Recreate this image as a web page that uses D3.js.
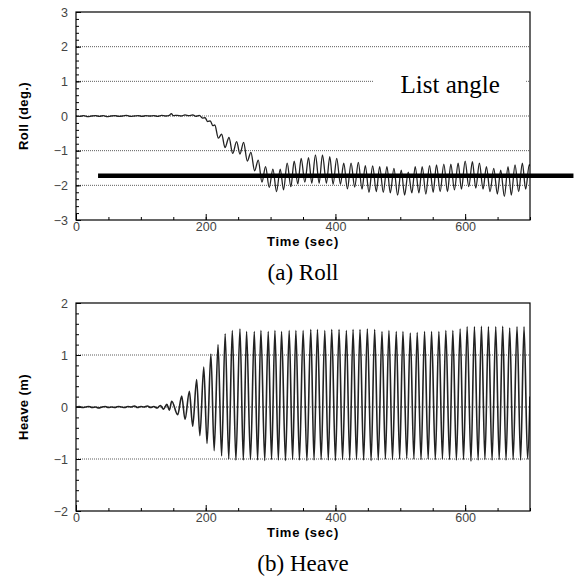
<!DOCTYPE html>
<html>
<head>
<meta charset="utf-8">
<script src="https://cdn.jsdelivr.net/npm/d3@7"></script>
<style>
  body { margin: 0; background: #fff; }
  .tick text { font-family: "Liberation Sans", Arial, sans-serif; font-size: 12.5px; fill: #444; }
  .tick line { stroke: #000; }
</style>
</head>
<body>
<svg id="chart"></svg>
<script>
const width = 574;
const height = 577;

// roll (deg.), [time (sec), value]
const rollData = [
  [0,0.00],[6,-0.01],[12,0.01],[18,-0.02],[24,0.00],[30,0.01],[36,-0.01],[42,0.01],[48,-0.02],[54,0.00],
  [60,0.01],[66,-0.01],[72,0.00],[78,0.02],[84,-0.01],[90,0.00],[96,0.01],[102,-0.01],[108,0.01],[114,0.00],
  [120,0.01],[126,-0.01],[132,0.02],[138,0.00],[144,0.02],[147,0.07],[150,0.01],[156,0.02],[162,0.00],[168,0.03],
  [174,0.01],[180,0.03],[185,-0.01],[190,0.02],[195,-0.06],[199,-0.05],[203,-0.16],[207,-0.14],[211,-0.28],[214,-0.26],
  [219.5,-0.64],[224.6,-0.52],[229.7,-0.91],[235.9,-0.62],[241.5,-1.08],[247.7,-0.74],[252.8,-1.10],[258.4,-0.76],
  [264.1,-1.30],[269.7,-1.05],[275.4,-1.58],[281,-1.27],[286.7,-1.91],[292.3,-1.46],[297.9,-2.06],[303.6,-1.53],
  [309.2,-2.18],[314.9,-1.53],[320,-2.13],[325.6,-1.36],[331.3,-2.04],[336.4,-1.30],[342,-1.96],[347.2,-1.22],
  [352.8,-1.91],[358.5,-1.20],[363.6,-1.94],[369.2,-1.12],[374.9,-1.94],[380,-1.12],[386.1,-1.94],[391.3,-1.17],
  [396.4,-1.97],[402,-1.22],[407.7,-1.97],[412.8,-1.36],[418.5,-2.10],[424.1,-1.36],[429.7,-2.05],[435.3,-1.34],
  [441,-2.11],[446.1,-1.43],[451.7,-2.20],[457.4,-1.44],[463,-2.18],[468.2,-1.46],[473.8,-2.20],[479.4,-1.46],
  [484.6,-2.22],[490.2,-1.51],[495.8,-2.28],[501.5,-1.56],[506.6,-2.28],[512.3,-1.62],[517.9,-2.22],[523,-1.46],
  [528.7,-2.22],[533.8,-1.46],[539.4,-2.25],[545.1,-1.43],[550.7,-2.20],[555.8,-1.41],[561.5,-2.18],[567.1,-1.39],
  [572.8,-2.18],[577.9,-1.39],[583.5,-2.13],[589.2,-1.36],[594.3,-2.11],[600,-1.30],[605.6,-2.04],[611.2,-1.32],
  [616.4,-2.08],[622,-1.36],[627.6,-2.11],[632.8,-1.46],[638.4,-2.18],[644.1,-1.51],[649.7,-2.25],[654.8,-1.56],
  [660.5,-2.32],[666.1,-1.46],[671.2,-2.28],[676.9,-1.41],[682.5,-2.18],[688.2,-1.36],[693.3,-2.11],[698.9,-1.40],[700,-1.45]
];

// heave (m), [time (sec), value]
const heaveData = [
  [0,0.00],[5,0.01],[10,-0.01],[15,0.00],[20,0.01],[25,-0.01],[30,0.00],[35,-0.02],[40,0.00],[45,0.01],
  [50,-0.01],[55,0.00],[60,-0.01],[65,0.01],[70,0.00],[75,-0.01],[80,0.01],[85,0.00],[90,0.02],[95,-0.01],
  [100,0.01],[105,0.00],[110,0.02],[115,-0.01],[120,0.01],[125,-0.02],[130,0.03],[135,-0.04],[140,0.05],[144,-0.06],
  [147.6,0.11],[156.8,-0.15],[163,0.21],[168.1,-0.24],[174.8,0.30],[179.9,-0.37],[186,0.53],[191,-0.55],
  [197,0.77],[202,-0.70],[208,1.02],[213,-0.84],[219,1.20],[224.5,-0.94],[230,1.41],[235.5,-1.00],
  [241,1.47],[246.5,-1.02],[252.8,1.50],[258,-1.02],[263,1.45],[269,-1.01],[274.9,1.45],[280,-1.02],
  [285.1,1.47],[291,-1.03],[296.4,1.45],[301.5,-1.01],[306.7,1.47],[312,-1.02],[316.9,1.45],[323,-1.03],
  [328.7,1.47],[334,-1.01],[339,1.47],[344.5,-1.02],[350.2,1.47],[356,-1.03],[362,1.49],[367,-1.02],
  [372.3,1.49],[378,-1.01],[383.6,1.47],[389,-1.02],[394.3,1.49],[400,-1.03],[405.6,1.49],[411,-1.01],
  [416.9,1.47],[422,-1.02],[427.2,1.49],[432.5,-1.01],[437.9,1.49],[443.5,-1.02],[449.2,1.50],[455,-1.03],
  [460.5,1.49],[466,-1.02],[471.8,1.45],[477,-1.00],[482.5,1.47],[488,-1.01],[493.8,1.45],[499,-1.00],
  [504.1,1.45],[510,-0.99],[515.4,1.42],[521,-1.00],[526.1,1.43],[532,-1.01],[537.4,1.45],[543,-1.00],
  [548.2,1.45],[554,-1.01],[559.5,1.45],[565,-1.00],[570.2,1.47],[576,-1.01],[581,1.47],[586.5,-1.02],
  [592.3,1.50],[597.5,-1.01],[603.1,1.54],[609,-1.04],[614.3,1.54],[620,-1.02],[625.1,1.55],[630.5,-1.01],
  [635.9,1.54],[641.5,-1.02],[647.2,1.54],[652.5,-1.01],[657.9,1.55],[663,-1.02],[668.7,1.52],[674,-1.01],
  [680,1.54],[685.5,-1.02],[690.8,1.54],[696.3,-1.00],[700,0.20]
];

const timeTicks = [0, 200, 400, 600];
const timeMinor = [0, 50, 100, 150, 200, 250, 300, 350, 400, 450, 500, 550, 600, 650, 700];
const rollTicks = [-3, -2, -1, 0, 1, 2, 3];
const heaveTicks = [-2, -1, 0, 1, 2];

const listAngle = -1.72;          // deg.
const listAngleSpan = [34, 767];  // sec

const panels = [
  { id: "roll", data: rollData, domain: [-3, 3], ticks: rollTicks, top: 12, bottom: 220,
    label: "Roll (deg.)", caption: "(a) Roll", captionY: 280, lineWidth: 1.3 },
  { id: "heave", data: heaveData, domain: [-2, 2], ticks: heaveTicks, top: 303, bottom: 511,
    label: "Heave (m)", caption: "(b) Heave", captionY: 571, lineWidth: 1.6 }
];

const svg = d3.select("#chart")
  .attr("width", width)
  .attr("height", height);

const x = d3.scaleLinear().domain([0, 700]).range([76, 530]);

panels.forEach(p => {
  const y = d3.scaleLinear().domain(p.domain).range([p.bottom, p.top]);
  const g = svg.append("g").attr("id", p.id);

  const minor = d3.range(p.domain[0], p.domain[1] + 0.001, 0.2);
  const grid = p.ticks.slice(1, -1);

  g.append("clipPath")
    .attr("id", "clip-" + p.id)
    .append("rect")
    .attr("x", x(0)).attr("y", p.top)
    .attr("width", x(700) - x(0)).attr("height", p.bottom - p.top);

  g.append("g")
    .selectAll("line")
    .data(grid)
    .enter()
    .append("line")
    .attr("x1", x(0)).attr("x2", x(700))
    .attr("y1", d => y(d)).attr("y2", d => y(d))
    .attr("stroke", "#333")
    .attr("stroke-width", 0.8)
    .attr("stroke-dasharray", "1,1");

  // y axis: minor and major ticks pointing inward
  g.append("g")
    .attr("transform", "translate(" + x(0) + ",0)")
    .call(d3.axisLeft(y).tickValues(minor).tickSize(-3).tickFormat(""))
    .call(a => a.select(".domain").remove());

  g.append("g")
    .attr("transform", "translate(" + x(0) + ",0)")
    .call(d3.axisLeft(y).tickValues(p.ticks).tickSize(-5).tickPadding(8).tickFormat(d3.format("d")))
    .call(a => a.select(".domain").remove());

  // x axis
  g.append("g")
    .attr("transform", "translate(0," + p.bottom + ")")
    .call(d3.axisBottom(x).tickValues(timeMinor).tickSize(-3).tickFormat(""))
    .call(a => a.select(".domain").remove());

  g.append("g")
    .attr("transform", "translate(0," + p.bottom + ")")
    .call(d3.axisBottom(x).tickValues(timeTicks).tickSize(-6).tickPadding(2))
    .call(a => a.select(".domain").remove());

  const line = d3.line()
    .x(d => x(d[0]))
    .y(d => y(d[1]))
    .curve(d3.curveMonotoneX);

  g.append("path")
    .datum(p.data)
    .attr("clip-path", "url(#clip-" + p.id + ")")
    .attr("fill", "none")
    .attr("stroke", "#222")
    .attr("stroke-width", p.lineWidth)
    .attr("d", line);

  if (p.id === "roll") {
    // box behind the annotation hides the grid line
    g.append("rect")
      .attr("x", x(459)).attr("y", y(1.6))
      .attr("width", x(694) - x(459)).attr("height", y(0.32) - y(1.6))
      .attr("fill", "#fff");

    g.append("text")
      .attr("x", x(577)).attr("y", y(0.65))
      .attr("text-anchor", "middle")
      .style("font-family", "'Liberation Serif', 'Times New Roman', serif")
      .style("font-size", "25px")
      .text("List angle");
  }

  g.append("rect")
    .attr("x", x(0)).attr("y", p.top)
    .attr("width", x(700) - x(0)).attr("height", p.bottom - p.top)
    .attr("fill", "none")
    .attr("stroke", "#000")
    .attr("stroke-width", 1.2);

  if (p.id === "roll") {
    g.append("line")
      .attr("x1", x(listAngleSpan[0])).attr("x2", x(listAngleSpan[1]))
      .attr("y1", y(listAngle)).attr("y2", y(listAngle))
      .attr("stroke", "#000")
      .attr("stroke-width", 4.5);
  }

  g.append("text")
    .attr("transform", "translate(23," + ((p.top + p.bottom) / 2) + ") rotate(-90)")
    .attr("text-anchor", "middle")
    .attr("dy", "0.35em")
    .style("font-family", "'Liberation Sans', Arial, sans-serif")
    .style("font-weight", "bold")
    .style("font-size", "13px")
    .style("letter-spacing", "0.4px")
    .text(p.label);

  g.append("text")
    .attr("x", x(350)).attr("y", p.bottom + 21)
    .attr("text-anchor", "middle")
    .attr("dy", "0.35em")
    .style("font-family", "'Liberation Sans', Arial, sans-serif")
    .style("font-weight", "bold")
    .style("font-size", "13px")
    .style("letter-spacing", "0.8px")
    .text("Time (sec)");

  g.append("text")
    .attr("x", x(350)).attr("y", p.captionY)
    .attr("text-anchor", "middle")
    .style("font-family", "'Liberation Serif', 'Times New Roman', serif")
    .style("font-size", "23px")
    .text(p.caption);
});
</script>
</body>
</html>
